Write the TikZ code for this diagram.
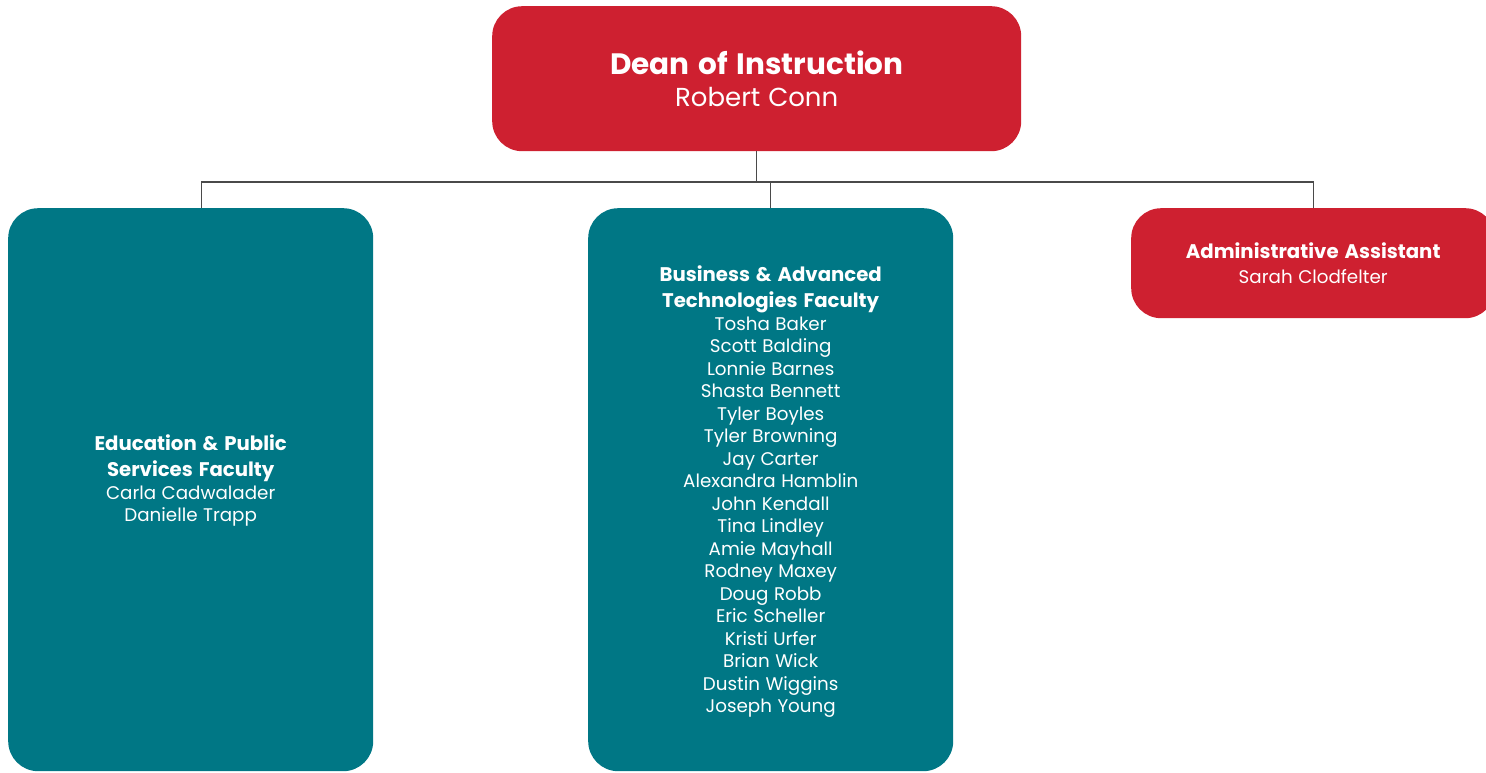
\documentclass[tikz,border=0pt]{standalone}
\usepackage{fontspec}
\setmainfont{Poppins}
\definecolor{deanred}{HTML}{CE2030}
\definecolor{teal}{HTML}{007785}
\definecolor{linegray}{HTML}{4A4A4A}
\newcommand{\wsp}{\spaceskip=0.3em\relax}
\newcommand{\ttl}{\fontsize{19.7}{26}\selectfont\bfseries\wsp}
\newcommand{\nms}{\fontsize{18.3}{22.5}\selectfont\mdseries\wsp}
\begin{document}
\begin{tikzpicture}[x=1pt,y=-1pt,
  box/.style={rounded corners=30pt, inner sep=0pt, text=white, align=center, anchor=north west},
  redbox/.style={box, fill=deanred},
  tealbox/.style={box, fill=teal},
  conn/.style={draw=linegray, line width=1.3pt}]
\useasboundingbox (0,0) rectangle (1486,772);
\clip (0,0) rectangle (1486,772);
\node[redbox, text width=529pt, minimum height=145pt] (dean) at (492,6)
  {\fontsize{29.5}{34}\selectfont\bfseries\wsp Dean of Instruction\par
   \fontsize{26}{32}\selectfont\mdseries\wsp Robert Conn\par};
\node[tealbox, text width=365pt, minimum height=563pt] (edu) at (8,208)
  {\ttl Education \& Public\\ Services Faculty\par
   \nms Carla Cadwalader\\ Danielle Trapp\par\vspace*{18pt}};
\node[tealbox, text width=365pt, minimum height=563pt] (bus) at (588,208)
  {\ttl Business \& Advanced\\ Technologies Faculty\par
   \nms Tosha Baker\\ Scott Balding\\ Lonnie Barnes\\ Shasta Bennett\\
   Tyler Boyles\\ Tyler Browning\\ Jay Carter\\ Alexandra Hamblin\\ John Kendall\\ Tina Lindley\\
   Amie Mayhall\\ Rodney Maxey\\ Doug Robb\\ Eric Scheller\\ Kristi Urfer\\ Brian Wick\\
   Dustin Wiggins\\ Joseph Young\par\vspace*{-4pt}};
\node[redbox, text width=364pt, minimum height=110pt] (adm) at (1131,208)
  {\ttl Administrative Assistant\par
   \fontsize{18.3}{24.5}\selectfont\mdseries\wsp Sarah Clodfelter\par};
\coordinate (busline) at (dean.south |- 0,182);
\draw[conn] (dean.south) -- (busline);
\draw[conn] ([xshift=10.5pt]edu.north) |- (busline);
\draw[conn] (bus.north) |- (busline);
\draw[conn] (adm.north) |- (busline);
\end{tikzpicture}
\end{document}
